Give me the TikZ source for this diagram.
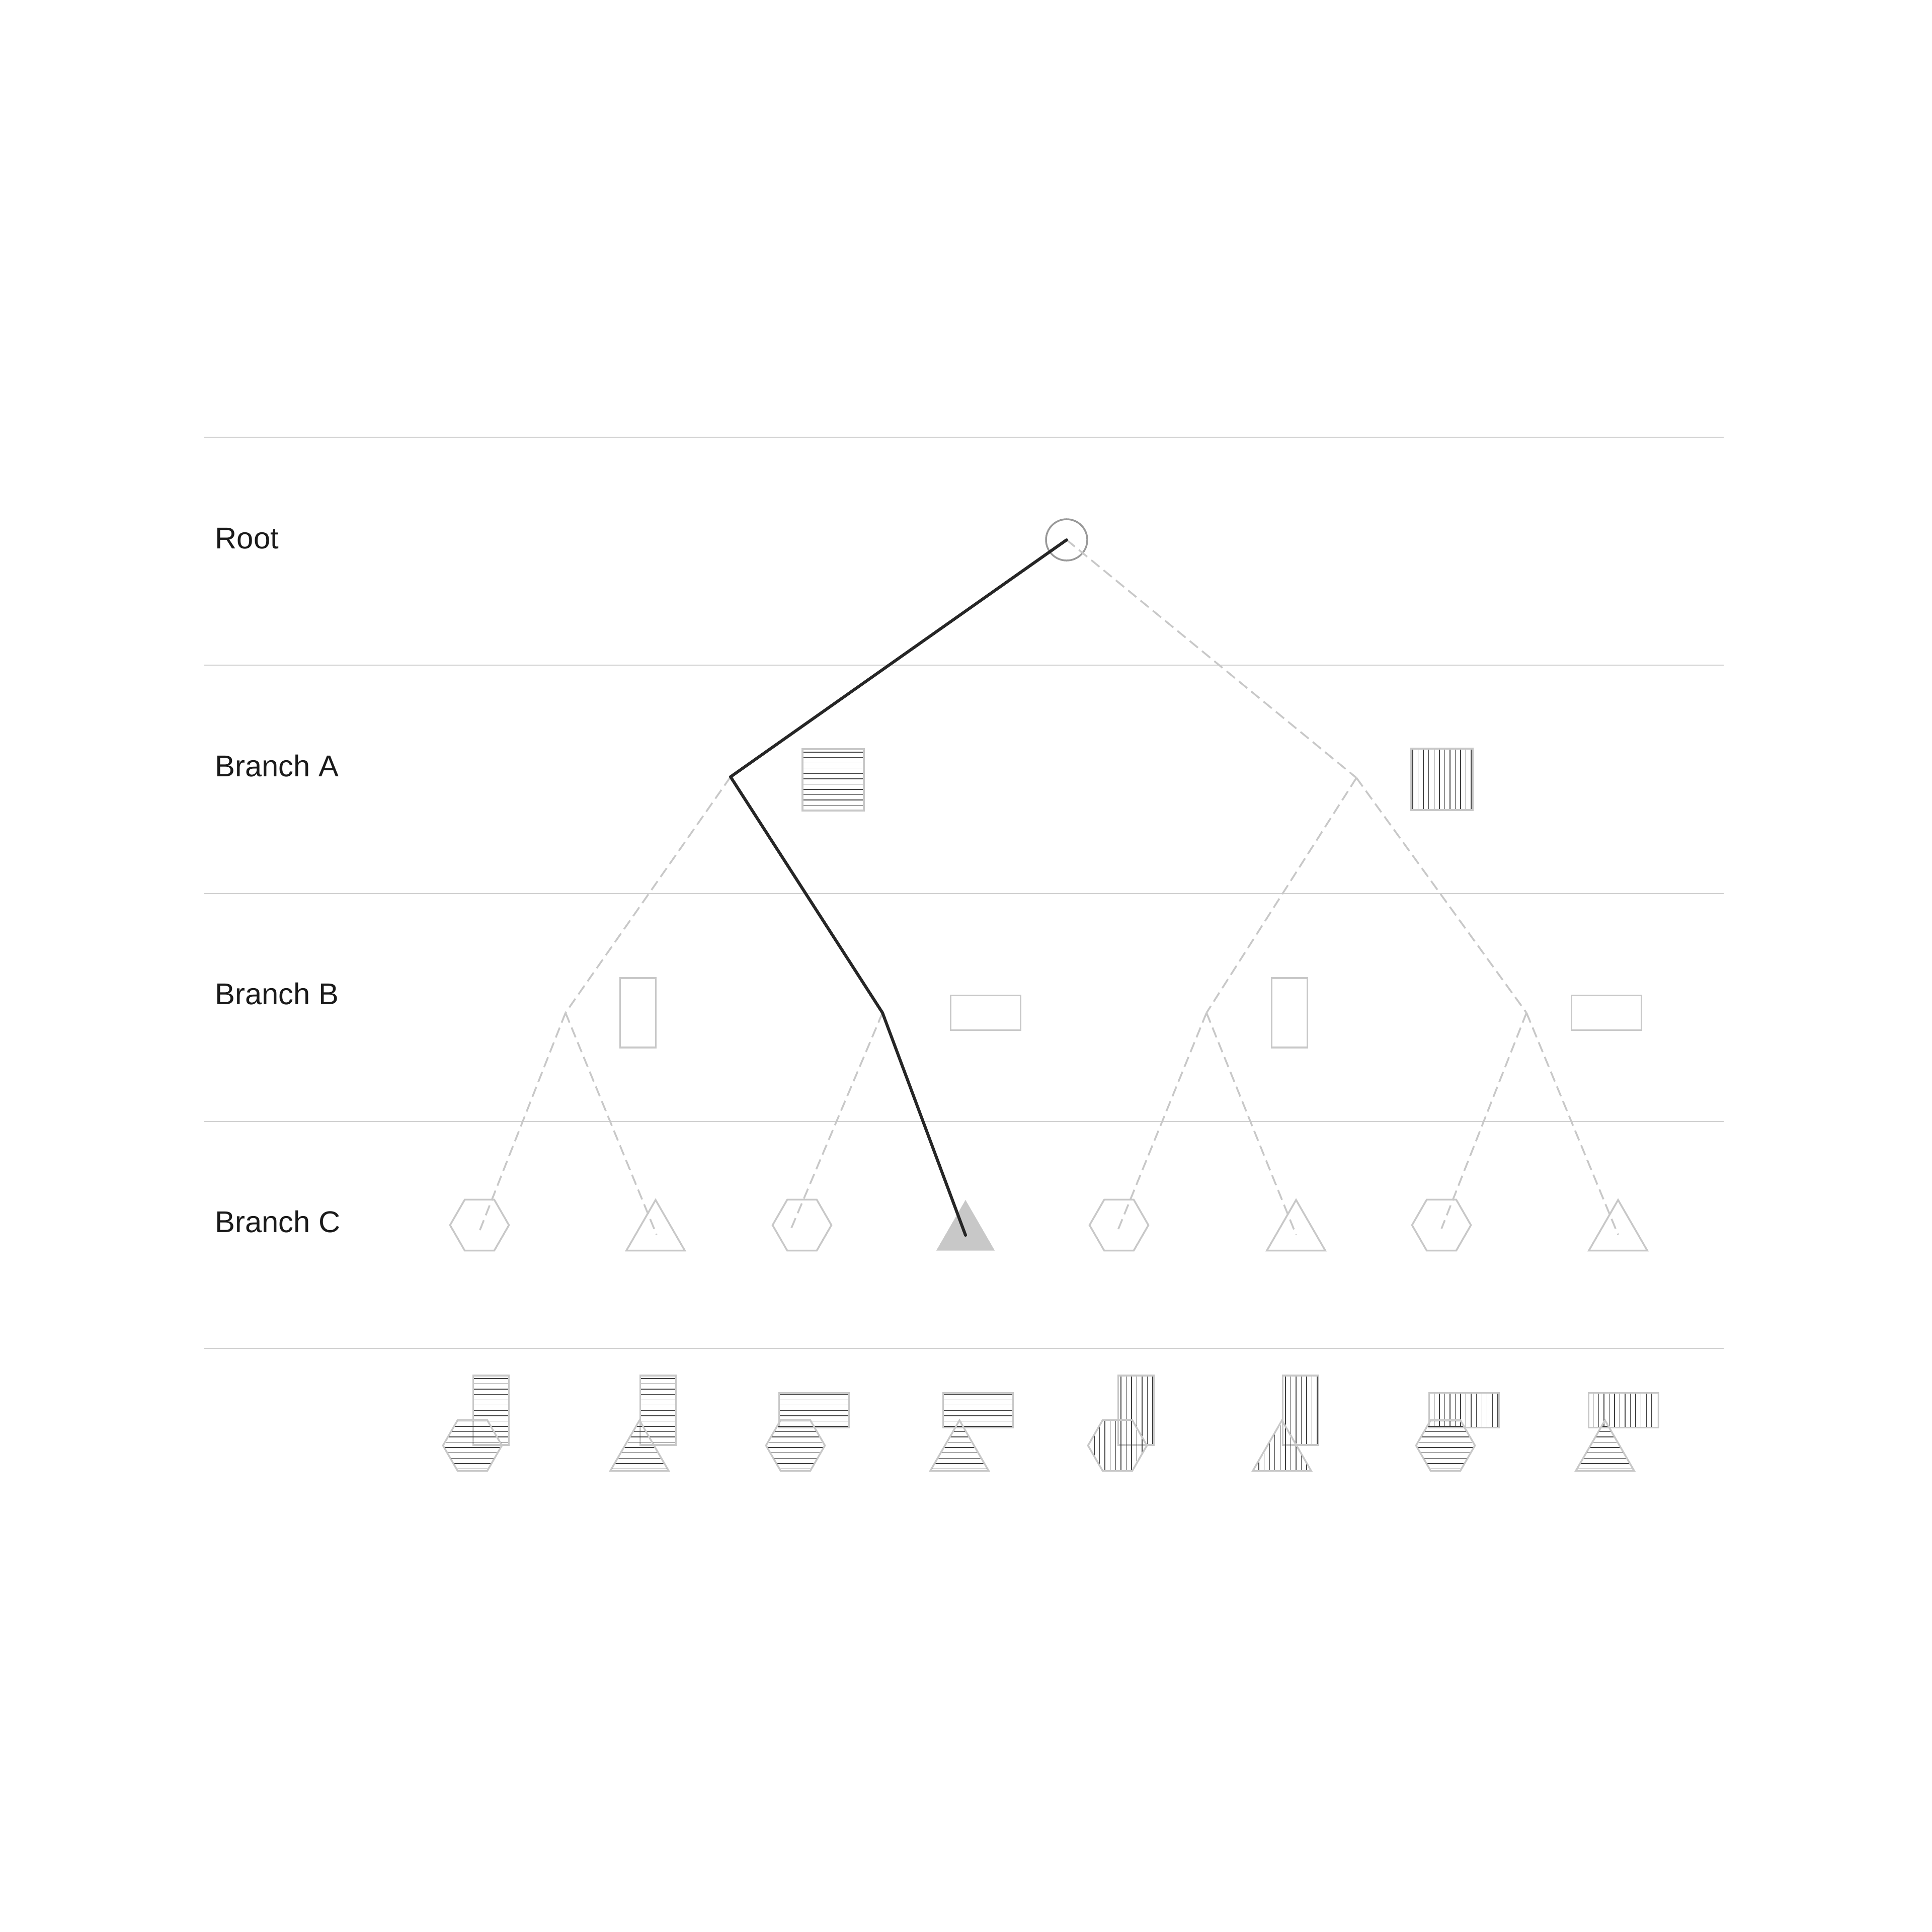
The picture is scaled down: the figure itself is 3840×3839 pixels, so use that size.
\documentclass[tikz,border=0pt]{standalone}
\usepackage{fontspec}
\setmainfont{Liberation Sans}
\usetikzlibrary{shapes.geometric,patterns}
\definecolor{sepc}{HTML}{D0D0D0}
\definecolor{shpc}{HTML}{C8C8C8}
\definecolor{hatchc}{HTML}{404040}
\definecolor{rootc}{HTML}{999999}
\definecolor{pathc}{HTML}{262626}
\definecolor{txtc}{HTML}{1A1A1A}
\begin{document}
\begin{tikzpicture}[x=0.01cm,y=-0.01cm,
  sepline/.style={draw=sepc,line width=0.8pt},
  lbl/.style={anchor=base west,inner sep=0pt,font=\fontsize{17}{20}\selectfont,text=txtc},
  shp/.style={draw=shpc,line width=1pt,inner sep=0pt,outer sep=0pt},
  hatchH/.style={pattern=horizontal lines,pattern color=hatchc},
  hatchV/.style={pattern=vertical lines,pattern color=hatchc},
  sqbox/.style={shp,rectangle,minimum width=1.22cm,minimum height=1.22cm},
  vrect/.style={shp,rectangle,minimum width=0.71cm,minimum height=1.38cm},
  hrect/.style={shp,rectangle,minimum width=1.39cm,minimum height=0.69cm},
  hexa/.style={shp,regular polygon,regular polygon sides=6,minimum size=1.17cm},
  tria/.style={shp,regular polygon,regular polygon sides=3,minimum size=1.34cm},
  rootnode/.style={draw=rootc,line width=1pt,circle,minimum size=0.82cm,inner sep=0pt},
  dashline/.style={draw=shpc,line width=1pt,dash pattern=on 6pt off 3pt},
  pathline/.style={draw=pathc,line width=1.7pt,line cap=round,line join=round}]
\useasboundingbox (0,0) rectangle (3840,3839);

% separators
\foreach \yy in {869,1322,1776,2229,2680}{
  \draw[sepline] (406,\yy) -- (3426,\yy);
}

% labels
\node[lbl] (lroot) at (427,1090) {Root};
\node[lbl] (la) at (427,1543) {Branch A};
\node[lbl] (lb) at (427,1996) {Branch B};
\node[lbl] (lc) at (427,2449) {Branch C};

% tree vertices
\coordinate (r) at (2120,1073);
\coordinate (a1) at (1452,1544);
\coordinate (a2) at (2696,1546);
\coordinate (b1) at (1124,2013);
\coordinate (b2) at (1754,2013);
\coordinate (b3) at (2398,2013);
\coordinate (b4) at (3034,2013);
\coordinate (c1) at (953,2447);
\coordinate (c2) at (1305,2454);
\coordinate (c3) at (1569,2450);
\coordinate (c4) at (1919,2455);
\coordinate (c5) at (2221,2447);
\coordinate (c6) at (2576,2454);
\coordinate (c7) at (2865,2442);
\coordinate (c8) at (3216,2454);

% row A shapes
\node[sqbox,hatchH] (sa1) at (1656,1550) {};
\node[sqbox,hatchV] (sa2) at (2866,1549) {};

% row B shapes
\node[vrect] (sb1) at (1268,2013) {};
\node[hrect] (sb2) at (1959,2013) {};
\node[vrect] (sb3) at (2563,2013) {};
\node[hrect] (sb4) at (3193,2013) {};

% row C shapes
\node[hexa] (sc1) at (953,2435) {};
\node[tria] (sc2) at (1303,2452) {};
\node[hexa] (sc3) at (1594,2435) {};
\node[tria,draw=none,fill=shpc] (sc4) at (1919,2452) {};
\node[hexa] (sc5) at (2224,2435) {};
\node[tria] (sc6) at (2576,2452) {};
\node[hexa] (sc7) at (2865,2435) {};
\node[tria] (sc8) at (3216,2452) {};

% root
\node[rootnode] (rootc) at (r) {};

% dashed connectors
\draw[dashline] (r) -- (a2);
\draw[dashline] (a1) -- (b1);
\draw[dashline] (b1) -- (c1);
\draw[dashline] (b1) -- (c2);
\draw[dashline] (b2) -- (c3);
\draw[dashline] (a2) -- (b3);
\draw[dashline] (a2) -- (b4);
\draw[dashline] (b3) -- (c5);
\draw[dashline] (b3) -- (c6);
\draw[dashline] (b4) -- (c7);
\draw[dashline] (b4) -- (c8);

% highlighted path
\draw[pathline] (r) -- (a1) -- (b2) -- (c4);

% bottom combinations
\node[vrect,hatchH] (d1r) at (976,2803) {};
\node[hexa,hatchH] (d1s) at (939,2873) {};
\node[vrect,hatchH] (d2r) at (1308,2803) {};
\node[tria,hatchH] (d2s) at (1271,2890) {};
\node[hrect,hatchH] (d3r) at (1618,2803) {};
\node[hexa,hatchH] (d3s) at (1581,2873) {};
\node[hrect,hatchH] (d4r) at (1944,2803) {};
\node[tria,hatchH] (d4s) at (1907,2890) {};
\node[vrect,hatchV] (d5r) at (2258,2803) {};
\node[hexa,hatchV] (d5s) at (2221,2873) {};
\node[vrect,hatchV] (d6r) at (2585,2803) {};
\node[tria,hatchV] (d6s) at (2548,2890) {};
\node[hrect,hatchV] (d7r) at (2910,2803) {};
\node[hexa,hatchH] (d7s) at (2873,2873) {};
\node[hrect,hatchV] (d8r) at (3227,2803) {};
\node[tria,hatchH] (d8s) at (3190,2890) {};
\end{tikzpicture}
\end{document}
